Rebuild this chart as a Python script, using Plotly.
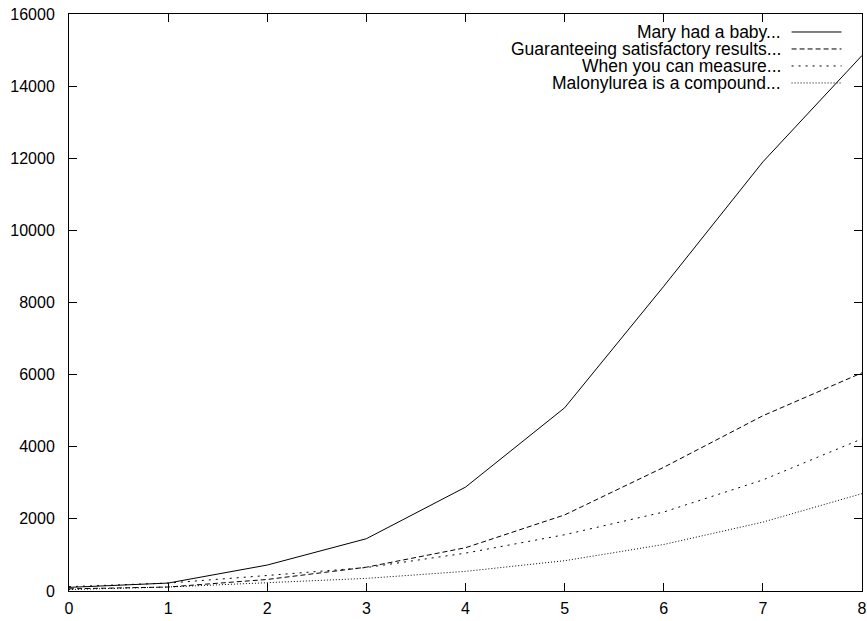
import plotly.graph_objects as go

x_values = [0, 1, 2, 3, 4, 5, 6, 7, 8]
series_names = [
    "Mary had a baby...",
    "Guaranteeing satisfactory results...",
    "When you can measure...",
    "Malonylurea is a compound...",
]
mary = [100, 220, 720, 1450, 2880, 5080, 8450, 11900, 14850]
guarantee = [60, 110, 320, 660, 1200, 2110, 3430, 4860, 6050]
measure = [120, 220, 430, 650, 1050, 1560, 2190, 3080, 4220]
malonylurea = [40, 110, 230, 350, 545, 840, 1290, 1910, 2700]

all_series = [mary, guarantee, measure, malonylurea]
dashes = ["solid", "5px,3px", "2px,5px", "1px,2px"]

L, R, T, B = 68.5, 862.5, 14, 591.5
FONT = "Liberation Sans, Arial, Helvetica, sans-serif"

fig = go.Figure()
for name, ys, dash in zip(series_names, all_series, dashes):
    fig.add_trace(go.Scatter(
        x=x_values, y=ys, mode="lines", name=name,
        line=dict(color="black", width=1, dash=dash),
        showlegend=False, hoverinfo="skip", cliponaxis=True,
    ))

# gnuplot-style key: right-aligned text with line sample on the right
row_y = [32, 49, 66, 83]
for i, (name, dash) in enumerate(zip(series_names, dashes)):
    yp = 1 - (row_y[i] - T) / (B - T)
    fig.add_annotation(
        xref="paper", yref="paper",
        x=(782 - L) / (R - L), y=yp,
        text=name, showarrow=False, xanchor="right", yanchor="middle",
        borderpad=0,
        font=dict(family=FONT, size=17.5, color="black"),
    )
    fig.add_shape(
        type="line", xref="paper", yref="paper",
        x0=(792 - L) / (R - L), x1=(842 - L) / (R - L),
        y0=yp, y1=yp,
        line=dict(color="black", width=1, dash=dash),
    )

axis_common = dict(
    showline=True, linecolor="black", linewidth=1, mirror="ticks",
    ticks="inside", ticklen=8, tickcolor="black", tickwidth=1,
    showgrid=False, zeroline=False, automargin=False,
    tickfont=dict(family=FONT, size=16, color="black"),
)

fig.update_xaxes(range=[0, 8], dtick=1, tick0=0, ticklabelstandoff=3, **axis_common)
fig.update_yaxes(range=[0, 16000], dtick=2000, tick0=0, tickformat="d",
                 ticklabelstandoff=10, **axis_common)

fig.update_layout(
    width=867, height=621,
    margin=dict(l=L, r=867 - R, t=T, b=621 - B, pad=0, autoexpand=False),
    plot_bgcolor="white", paper_bgcolor="white",
    font=dict(family=FONT, size=16, color="black"),
)

fig.write_html(
    "out.html",
    config={"displayModeBar": False},
    post_script=(
        "document.body.style.margin='0';"
        "document.body.style.overflow='hidden';"
        "document.documentElement.style.overflow='hidden';"
    ),
)
